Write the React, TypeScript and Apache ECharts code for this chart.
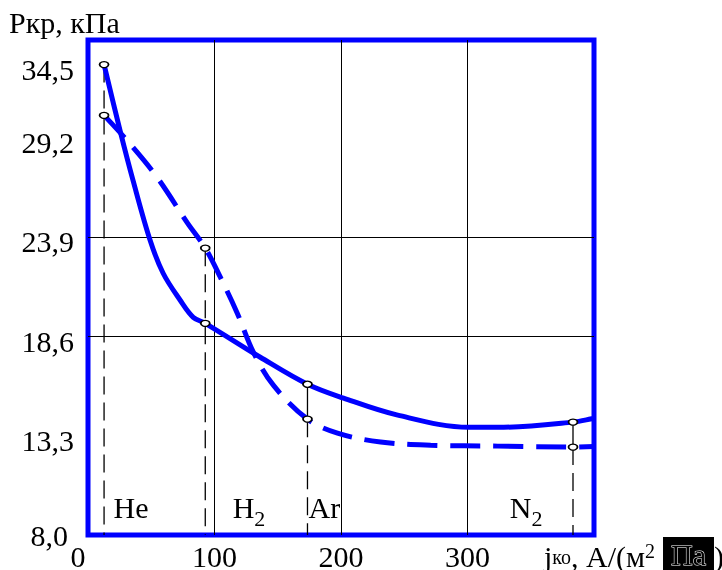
import React, { useEffect, useRef } from 'react';
import * as echarts from 'echarts';

// Solid curve
const solidX = [12.7, 25.3, 35.6, 49.1, 59.4, 72.9, 83.2, 92.7, 136.2, 173.5, 202, 244.8, 301, 328.7, 383.4, 400];
const solidY = [33.09, 29.58, 26.91, 23.72, 21.96, 20.52, 19.61, 19.29, 17.48, 16.04, 15.3, 14.39, 13.75, 13.75, 14.02, 14.23];
// Dashed curve
const dashedX = [12.7, 30.9, 54.7, 78.4, 92.7, 104.6, 118, 130.7, 146.5, 173.5, 197.2, 231.3, 270.9, 324, 383.4, 400];
const dashedY = [30.38, 29.04, 27.07, 24.66, 23.3, 21.75, 19.83, 17.75, 15.99, 14.18, 13.43, 12.96, 12.79, 12.74, 12.69, 12.72];

// Gas points (markers) x values
const gasX = [12.7, 92.7, 173.5, 383.4];
const gasNames = ['He', 'H2', 'Ar', 'N2'];
const gasLabelX = [19.8, 114, 174, 333];
const gasLabelY = 9.3;

// Axis ticks
const xTicks = [0, 100, 200, 300];
const yGridValues = [13.3, 18.6, 23.9, 29.2];
const yLabelValues = [8.0, 13.3, 18.6, 23.9, 29.2, 33.09];
const yLabelTexts = ['8,0', '13,3', '18,6', '23,9', '29,2', '34,5'];

const FONT = 'Liberation Serif';
const BLUE = '#0000ff';
const FS = 30;

export default function App() {
  const ref = useRef<HTMLDivElement>(null);
  useEffect(() => {
    const chart = echarts.init(ref.current!, null, { renderer: 'svg' });

    const isMarker = (x: number) => gasX.indexOf(x) >= 0;
    const curveData = (xs: number[], ys: number[]) =>
      xs.map((x, i) =>
        isMarker(x)
          ? { value: [x, ys[i]], symbol: 'circle', symbolSize: [9, 6] }
          : { value: [x, ys[i]], symbol: 'none' }
      );

    const markerY = (xs: number[], ys: number[], gx: number) => ys[xs.indexOf(gx)];

    const dropSeries: any[] = [];
    gasX.forEach((gx, i) => {
      const a = markerY(solidX, solidY, gx);
      const b = markerY(dashedX, dashedY, gx);
      const top = Math.max(a, b);
      const low = Math.min(a, b);
      const solidConnector = i >= 2;
      dropSeries.push({
        type: 'line',
        data: [[gx, solidConnector ? low : top], [gx, 8]],
        symbol: 'none',
        z: 1,
        lineStyle: { color: '#000', width: 1.3, type: [18, 8] },
        silent: true,
      });
      if (solidConnector) {
        dropSeries.push({
          type: 'line',
          data: [[gx, top], [gx, low]],
          symbol: 'none',
          z: 1,
          lineStyle: { color: '#000', width: 1.3, type: 'solid' },
          silent: true,
        });
      }
    });

    const gasRich = {
      a: { fontFamily: FONT, fontSize: FS, color: '#000', padding: [0, 0, 7, 0], verticalAlign: 'bottom' },
      s: { fontFamily: FONT, fontSize: 22, color: '#000', verticalAlign: 'bottom' },
    };

    const option: any = {
      animation: false,
      textStyle: { fontFamily: FONT },
      title: {
        text: 'Ркр, кПа',
        left: 9,
        top: 7,
        padding: 0,
        textStyle: { fontFamily: FONT, fontSize: FS, fontWeight: 'normal', color: '#000' },
      },
      grid: {
        left: 88,
        top: 40,
        right: 128,
        bottom: 35,
        show: true,
        borderColor: BLUE,
        borderWidth: 5,
        backgroundColor: 'transparent',
        containLabel: false,
        outerBoundsMode: 'none',
      },
      xAxis: {
        type: 'value',
        min: 0,
        max: 400,
        interval: 100,
        name: '{j|j}{k|ко}{n|, А/(м}{p|2}{b|Па}{n|)}',
        nameLocation: 'end',
        nameGap: -50,
        nameTextStyle: {
          align: 'left',
          verticalAlign: 'top',
          padding: [4, 0, 0, 0],
          rich: {
            j: { fontFamily: FONT, fontSize: FS, color: '#000', lineHeight: 34 },
            k: { fontFamily: FONT, fontSize: 20, color: '#000', lineHeight: 16, padding: [10, 0, 8, 0] },
            n: { fontFamily: FONT, fontSize: FS, color: '#000', lineHeight: 34 },
            p: { fontFamily: FONT, fontSize: 20, color: '#000', lineHeight: 16, padding: [4, 8, 14, 0] },
            b: {
              fontFamily: FONT, fontSize: FS, color: '#000', lineHeight: 18, verticalAlign: 'bottom',
              backgroundColor: '#000', textBorderColor: '#fff', textBorderWidth: 1, padding: [2, 8, 4, 8],
            },
          },
        },
        axisLine: { show: false },
        axisTick: { show: false },
        axisLabel: {
          show: true,
          customValues: xTicks,
          margin: 6,
          color: '#000',
          fontFamily: FONT,
          fontSize: FS,
          formatter: (v: number) => (v === 0 ? '{z|0}' : String(v)),
          rich: { z: { fontFamily: FONT, fontSize: FS, color: '#000', padding: [0, 20, 0, 0] } },
        },
        splitLine: { show: true, showMinLine: false, showMaxLine: false, lineStyle: { color: '#000', width: 1 } },
      },
      yAxis: {
        type: 'value',
        min: 8,
        max: 34.4,
        axisLine: { show: false },
        axisTick: { show: false, customValues: yGridValues },
        axisLabel: {
          show: true,
          customValues: yLabelValues,
          margin: 14,
          color: '#000',
          fontFamily: FONT,
          fontSize: FS,
          formatter: (v: number) => {
            const i = yLabelValues.indexOf(v);
            const t = i >= 0 ? yLabelTexts[i] : String(v);
            return i === 0 ? `{b|${t}}` : `{t|${t}}`;
          },
          rich: {
            t: { fontFamily: FONT, fontSize: FS, color: '#000', padding: [10, 0, 0, 0] },
            b: { fontFamily: FONT, fontSize: FS, color: '#000', padding: [0, 6, 0, 0] },
          },
        },
        splitLine: { show: true, showMinLine: false, showMaxLine: false, lineStyle: { color: '#000', width: 1 } },
      },
      series: [
        ...dropSeries,
        {
          name: 'solid',
          type: 'line',
          data: curveData(solidX, solidY),
          smooth: 0.35,
          showSymbol: true,
          z: 3,
          lineStyle: { color: BLUE, width: 5, type: 'solid' },
          itemStyle: { color: '#fff', borderColor: '#000', borderWidth: 1.5 },
        },
        {
          name: 'dashed',
          type: 'line',
          data: curveData(dashedX, dashedY),
          smooth: 0.35,
          showSymbol: true,
          z: 3,
          lineStyle: { color: BLUE, width: 5, type: [30, 13] },
          itemStyle: { color: '#fff', borderColor: '#000', borderWidth: 1.5 },
        },
        {
          type: 'scatter',
          symbolSize: 1,
          itemStyle: { color: 'rgba(0,0,0,0)' },
          z: 4,
          silent: true,
          data: gasNames.map((n, i) => ({ value: [gasLabelX[i], gasLabelY], name: n })),
          label: {
            show: true,
            position: 'right',
            distance: 0,
            color: '#000',
            opacity: 1,
            textBorderWidth: 0,
            formatter: (p: any) => {
              const n: string = p.name;
              const m = n.match(/^([A-Za-z]+)(\d*)$/);
              if (m && m[2]) return `{a|${m[1]}}{s|${m[2]}}`;
              return `{a|${n}}`;
            },
            rich: gasRich,
          },
        },
      ],
    };

    chart.setOption(option);
    return () => chart.dispose();
  }, []);
  return <div ref={ref} style={{ position: 'fixed', left: 0, top: 0, width: 722, height: 570 }} />;
}
